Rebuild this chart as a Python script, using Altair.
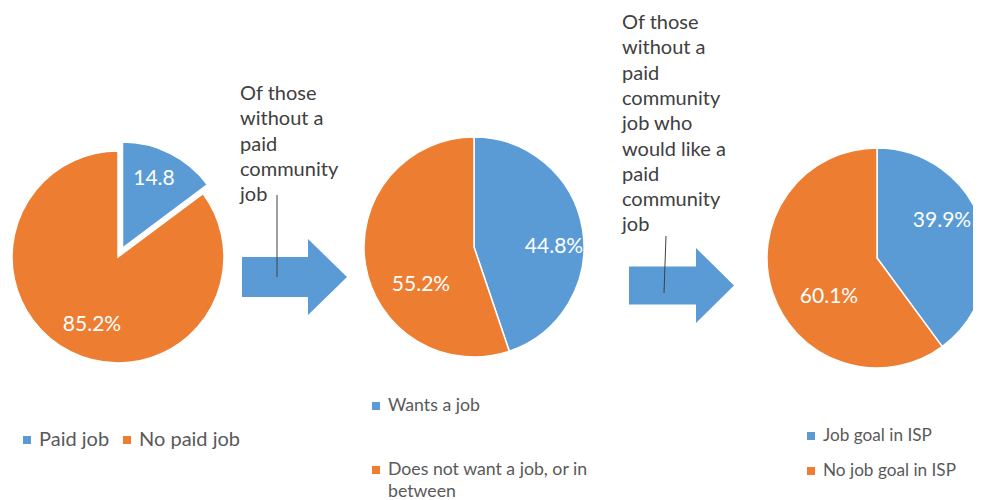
import math
import textwrap
import altair as alt
import pandas as pd

# ---------------- data ----------------
pie_slices = [["Paid job", "No paid job"],
              ["Wants a job", "Does not want a job, or in between"],
              ["Job goal in ISP", "No job goal in ISP"]]
pie_values = [[14.8, 85.2], [44.8, 55.2], [39.9, 60.1]]
pie_value_labels = [["14.8", "85.2%"], ["44.8%", "55.2%"], ["39.9%", "60.1%"]]
arrow_notes = [["Of those", "without a", "paid", "community", "job"],
               ["Of those", "without a", "paid", "community", "job who",
                "would like a", "paid", "community", "job"]]

# ---------------- style / layout ----------------
W, H = 981, 500
BLUE, ORANGE = "#5B9BD5", "#ED7D31"
FONT = "Lato"
pie_center = [(118, 257), (474, 247), (877, 258)]
pie_radius = [106, 110, 110]
pie_explode = [[10, 0], [0, 0], [0, 0]]
label_offset = [[(36, -78), (-26, 68)], [(80, 0), (-53, 38)], [(65, -37), (-48, 39)]]
legend_pos = [[(27, 440), (127, 440)], [(376, 406), (376, 470)], [(811, 436), (811, 471)]]
legend_font = [20, 17.7, 17.2]
LEGEND_GAP = 12
LEGEND_LH = 21.5
arrow_geom = [dict(x0=242, xs=308, x1=347, yc=277, hs=20, hh=38),
              dict(x0=629, xs=696, x1=734, yc=285.5, hs=19, hh=37.5)]
note_pos = [(240, 84), (622, 13)]
NOTE_LH = 25.3
leader_lines = [(277, 195, 277, 277), (666, 236, 664, 293)]

kinds = ["a", "b"]
color_scale = alt.Scale(domain=kinds, range=[BLUE, ORANGE])

# ---------------- tables ----------------
rows = []
legend_rows = []
for i, vals in enumerate(pie_values):
    total = sum(vals)
    acc = 0.0
    cx0, cy0 = pie_center[i]
    for j, v in enumerate(vals):
        t0 = acc / total * 2 * math.pi
        acc += v
        t1 = acc / total * 2 * math.pi
        mid = (t0 + t1) / 2
        d = pie_explode[i][j]
        cx = cx0 + d * math.sin(mid)
        cy = cy0 - d * math.cos(mid)
        lx = cx0 + label_offset[i][j][0]
        ly = cy0 + label_offset[i][j][1]
        rows.append(dict(pie=i, kind=kinds[j], name=pie_slices[i][j], value=v,
                         t0=t0, t1=t1, cx=cx, cy=cy, r=pie_radius[i],
                         lx=lx, ly=ly, label=pie_value_labels[i][j]))
        sx, sy = legend_pos[i][j]
        lines = textwrap.wrap(pie_slices[i][j], 26)
        legend_rows.append(dict(kind=kinds[j], sx=sx, sy=sy, tx=sx + LEGEND_GAP,
                                ty=sy, fs=legend_font[i], text="\n".join(lines)))
slices = pd.DataFrame(rows)
legend_df = pd.DataFrame(legend_rows)

shaft_df = pd.DataFrame([dict(a=k, x0=g["x0"], xs=g["xs"], yt=g["yc"] - g["hs"], yb=g["yc"] + g["hs"])
                         for k, g in enumerate(arrow_geom)])
head_df = pd.DataFrame([r for k, g in enumerate(arrow_geom) for r in (
    dict(a=k, x=g["xs"], y=g["yc"] - g["hh"], y2=g["yc"] + g["hh"]),
    dict(a=k, x=g["x1"], y=g["yc"], y2=g["yc"]))])
lines_df = pd.DataFrame([dict(x=a, y=b, x2=c, y2=d) for a, b, c, d in leader_lines])
notes_df = pd.DataFrame([dict(x=note_pos[k][0], y=note_pos[k][1], text="\n".join(n))
                         for k, n in enumerate(arrow_notes)])

X = lambda f: alt.X(f, scale=None, axis=None)
Y = lambda f: alt.Y(f, scale=None, axis=None)

arcs = alt.Chart(slices).mark_arc(stroke="white", strokeWidth=1.5).encode(
    x=X("cx:Q"), y=Y("cy:Q"),
    theta=alt.Theta("t0:Q", scale=None), theta2=alt.Theta2("t1:Q"),
    radius=alt.Radius("r:Q", scale=None),
    color=alt.Color("kind:N", scale=color_scale, legend=None),
)
labels = alt.Chart(slices).mark_text(font=FONT, fontSize=21, color="white",
                                     align="center", baseline="middle").encode(
    x=X("lx:Q"), y=Y("ly:Q"), text="label:N")

shafts = alt.Chart(shaft_df).mark_rect(color=BLUE).encode(
    x=X("x0:Q"), x2="xs:Q", y=Y("yt:Q"), y2="yb:Q")
heads = alt.Chart(head_df).mark_area(color=BLUE, opacity=1).encode(
    x=X("x:Q"), y=Y("y:Q"), y2="y2:Q", detail="a:N")
leaders = alt.Chart(lines_df).mark_rule(color="#404040", strokeWidth=1).encode(
    x=X("x:Q"), y=Y("y:Q"), x2="x2:Q", y2="y2:Q")
notes = alt.Chart(notes_df).mark_text(font=FONT, fontSize=20, color="#404040", align="left",
                                      baseline="top", lineBreak="\n", lineHeight=NOTE_LH).encode(
    x=X("x:Q"), y=Y("y:Q"), text="text:N")

leg_sq = alt.Chart(legend_df).mark_square(size=64, opacity=1).encode(
    x=X("sx:Q"), y=Y("sy:Q"), color=alt.Color("kind:N", scale=color_scale, legend=None))
leg_tx = alt.Chart(legend_df).mark_text(font=FONT, color="#595959", align="left",
                                        baseline="middle", lineBreak="\n",
                                        lineHeight=LEGEND_LH).encode(
    x=X("tx:Q"), y=Y("ty:Q"), text="text:N", size=alt.Size("fs:Q", scale=None, legend=None))

chart = alt.layer(arcs, labels, shafts, heads, leaders, notes, leg_sq, leg_tx).properties(
    width=W, height=H,
    padding={"left": -8, "top": -8, "right": -8, "bottom": 0},
    autosize=alt.AutoSizeParams(type="none"),
).configure_view(stroke=None)

chart.save("out.html", embed_options={"renderer": "svg", "actions": False})
